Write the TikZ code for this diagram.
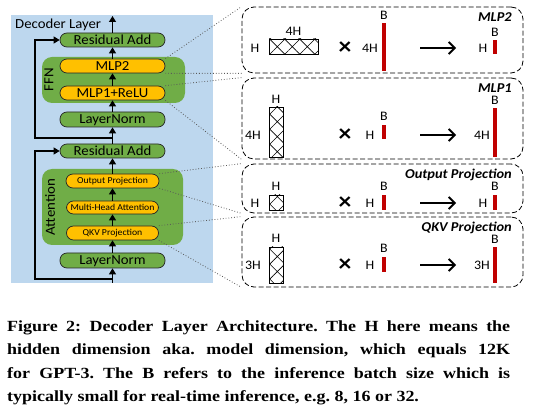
\documentclass[tikz,border=0pt]{standalone}
\usepackage{fontspec}
\setmainfont[FakeStretch=1.07]{Carlito}
\newfontfamily\capfont[FakeStretch=1.16]{Liberation Serif}
\usetikzlibrary{arrows.meta,patterns.meta}

\definecolor{bgblue}{RGB}{189,215,238}
\definecolor{boxgreen}{RGB}{112,173,71}
\definecolor{boxyellow}{RGB}{255,192,0}
\definecolor{barred}{RGB}{192,0,0}

\begin{document}
\begin{tikzpicture}[x=1pt,y=-1pt,
  block/.style={draw=black!85,line width=0.7pt,rounded corners=7pt,minimum width=105pt,
    minimum height=14pt,inner sep=0pt,text height=10pt,text depth=1pt,font=\fontsize{13.8}{13.8}\selectfont},
  greenblock/.style={block,fill=boxgreen},
  yellowblock/.style={block,fill=boxyellow},
  smallblock/.style={yellowblock,minimum width=92pt,text height=6.3pt,text depth=0.5pt,
    font=\fontsize{9.1}{9.1}\selectfont},
  group/.style={fill=boxgreen,rounded corners=10pt},
  grouplabel/.style={rotate=90,inner sep=0pt,font=\fontsize{13.9}{13.9}\selectfont},
  flow/.style={-{Triangle[length=6pt,width=7pt]},line width=1.2pt},
  panel/.style={draw,dash pattern=on 5pt off 2.5pt,line width=0.8pt,rounded corners=12pt,
    minimum width=281pt,inner sep=0pt},
  ptitle/.style={anchor=base east,inner sep=0pt,font=\fontsize{13.5}{13.5}\selectfont\bfseries\itshape},
  zoomline/.style={dotted,draw=black!65,line width=0.8pt},
  dim/.style={inner sep=0pt,font=\fontsize{13}{13}\selectfont},
  matrixbox/.style={draw,line width=0.7pt,inner sep=0pt,
    pattern={Hatch[angle=45,distance=10.6pt,line width=0.6pt]}},
  vecbar/.style={fill=barred,minimum width=3.5pt,inner sep=0pt},
  times/.style={inner sep=0pt,font=\fontsize{24}{24}\selectfont\bfseries},
  result/.style={-{Straight Barb[length=6pt,width=12pt]},line width=1.8pt}
]
\useasboundingbox (0,0) rectangle (539,414);

% decoder layer
\fill[bgblue] (11,15) rectangle (213,283);
\fill[group] (42,57) rectangle (185,103);
\fill[group] (42,169) rectangle (183,245);
\node[anchor=base west,inner sep=0pt,font=\fontsize{13.8}{13.8}\selectfont] (title) at (15,28.5) {Decoder Layer};
\node[grouplabel] (ffnlabel) at (49,80) {FFN};
\node[grouplabel] (attlabel) at (50,207) {Attention};

\node[greenblock] (res1) at (112.5,40) {Residual Add};
\node[yellowblock] (mlp2) at (112.5,66) {MLP2};
\node[yellowblock] (mlp1) at (112.5,93) {MLP1+ReLU};
\node[greenblock,minimum height=15pt] (ln1) at (112.5,119.5) {LayerNorm};
\node[greenblock] (res2) at (112.5,151) {Residual Add};
\node[smallblock,minimum width=93pt] (op) at (112.5,181) {Output Projection};
\node[smallblock,minimum height=13pt] (mha) at (112.5,207.5) {Multi-Head Attention};
\node[smallblock] (qkv) at (112.5,233) {QKV Projection};
\node[greenblock,minimum height=15pt] (ln2) at (112.5,260.5) {LayerNorm};

\coordinate (inlet) at (112.5,283);
\coordinate (fork2) at (112.5,279);
\coordinate (loop2) at (35,279);
\coordinate (fork1) at (112.5,138);
\coordinate (loop1) at (35,138);
\coordinate (outlet) at (112.5,16);

\draw[flow] (inlet) -- (ln2);
\draw[flow] (ln2) -- (qkv);
\draw[flow] (qkv) -- (mha);
\draw[flow] (mha) -- (op);
\draw[flow] (op) -- (res2);
\draw[flow] (res2) -- (ln1);
\draw[flow] (ln1) -- (mlp1);
\draw[flow] (mlp1) -- (mlp2);
\draw[flow] (mlp2) -- (res1);
\draw[flow] (res1) -- (outlet);
\draw[flow] (fork2) -- (loop2) |- (res2.west);
\draw[flow] (fork1) -- (loop1) |- (res1.west);

% MLP2
\node[panel,minimum height=66pt] (pmlp2) at (382.5,40) {};
\node[ptitle] (tmlp2) at (512,21.5) {MLP2};
\node[dim] (mlp2wl) at (255,48) {H};
\node[matrixbox,minimum width=49pt,minimum height=15pt] (mlp2w) at (293.5,46.5) {};
\node[dim] (mlp2wt) at (293.5,31) {4H};
\node[times] (mlp2t) at (345,48) {×};
\node[dim] (mlp2xl) at (370,48) {4H};
\node[vecbar,minimum height=48pt] (mlp2x) at (384,47) {};
\node[dim] (mlp2xt) at (384,15) {B};
\coordinate (mlp2a) at (420,48);
\coordinate (mlp2b) at (456,48);
\draw[result] (mlp2a) -- (mlp2b);
\node[dim] (mlp2yl) at (483,48) {H};
\node[vecbar,minimum height=14pt] (mlp2y) at (495,47) {};
\node[dim] (mlp2yt) at (495,32) {B};

% MLP1
\node[panel,minimum height=81pt] (pmlp1) at (382.5,118.5) {};
\node[ptitle] (tmlp1) at (512,92.5) {MLP1};
\node[dim] (mlp1wl) at (253,135) {4H};
\node[matrixbox,minimum width=14pt,minimum height=50pt] (mlp1w) at (276,132) {};
\node[dim] (mlp1wt) at (276,99) {H};
\node[times] (mlp1t) at (345,135) {×};
\node[dim] (mlp1xl) at (370,135) {H};
\node[vecbar,minimum height=14pt] (mlp1x) at (384,132) {};
\node[dim] (mlp1xt) at (384,116) {B};
\coordinate (mlp1a) at (420,135);
\coordinate (mlp1b) at (456,135);
\draw[result] (mlp1a) -- (mlp1b);
\node[dim] (mlp1yl) at (482,135) {4H};
\node[vecbar,minimum height=49pt] (mlp1y) at (495,132.5) {};
\node[dim] (mlp1yt) at (495,100) {B};

% Output Projection
\node[panel,minimum height=49pt] (pop) at (382.5,188.5) {};
\node[ptitle] (top) at (512,178.5) {Output Projection};
\node[dim] (opwl) at (255,203) {H};
\node[matrixbox,minimum width=14pt,minimum height=15pt] (opw) at (276,202.5) {};
\node[dim] (opwt) at (276,186) {H};
\node[times] (opt) at (345,203) {×};
\node[dim] (opxl) at (370,203) {H};
\node[vecbar,minimum height=15pt] (opx) at (384,202.5) {};
\node[dim] (opxt) at (384,186) {B};
\coordinate (opa) at (420,203);
\coordinate (opb) at (456,203);
\draw[result] (opa) -- (opb);
\node[dim] (opyl) at (483,203) {H};
\node[vecbar,minimum height=15pt] (opy) at (495,202.5) {};
\node[dim] (opyt) at (495,186) {B};

% QKV Projection
\node[panel,minimum height=70pt] (pqkv) at (382.5,252) {};
\node[ptitle] (tqkv) at (512,231.5) {QKV Projection};
\node[dim] (qkvwl) at (253,265) {3H};
\node[matrixbox,minimum width=14pt,minimum height=36pt] (qkvw) at (276,265) {};
\node[dim] (qkvwt) at (276,238) {H};
\node[times] (qkvt) at (345,265) {×};
\node[dim] (qkvxl) at (370,265) {H};
\node[vecbar,minimum height=15pt] (qkvx) at (384,264.5) {};
\node[dim] (qkvxt) at (384,248) {B};
\coordinate (qkva) at (420,265);
\coordinate (qkvb) at (456,265);
\draw[result] (qkva) -- (qkvb);
\node[dim] (qkvyl) at (482,265) {3H};
\node[vecbar,minimum height=36pt] (qkvy) at (495,265) {};
\node[dim] (qkvyt) at (495,239) {B};

% zoom lines
\draw[zoomline] (mlp2.north east) -- (pmlp2.north west);
\draw[zoomline] (mlp2.south east) -- (pmlp2.south west);
\draw[zoomline] (mlp1.north east) -- (pmlp1.north west);
\draw[zoomline] (mlp1.south east) -- (pmlp1.south west);
\draw[zoomline] (op.north east) -- (pop.north west);
\draw[zoomline] (op.south east) -- (pop.south west);
\draw[zoomline] (qkv.north east) -- (pqkv.north west);
\draw[zoomline] (qkv.south east) -- (pqkv.south west);

% caption
\node[anchor=north west,inner sep=0pt,align=left,
  font=\capfont\bfseries\frenchspacing\fontsize{15.5}{23.5}\selectfont] (caption) at (7,320.5) {%
\makebox[503pt][s]{Figure 2: Decoder Layer Architecture. The H here means the}\\
\makebox[503pt][s]{hidden dimension aka. model dimension, which equals 12K}\\
\makebox[503pt][s]{for GPT-3. The B refers to the inference batch size which is}\\
typically small for real-time inference, e.g. 8, 16 or 32.};
\end{tikzpicture}
\end{document}
